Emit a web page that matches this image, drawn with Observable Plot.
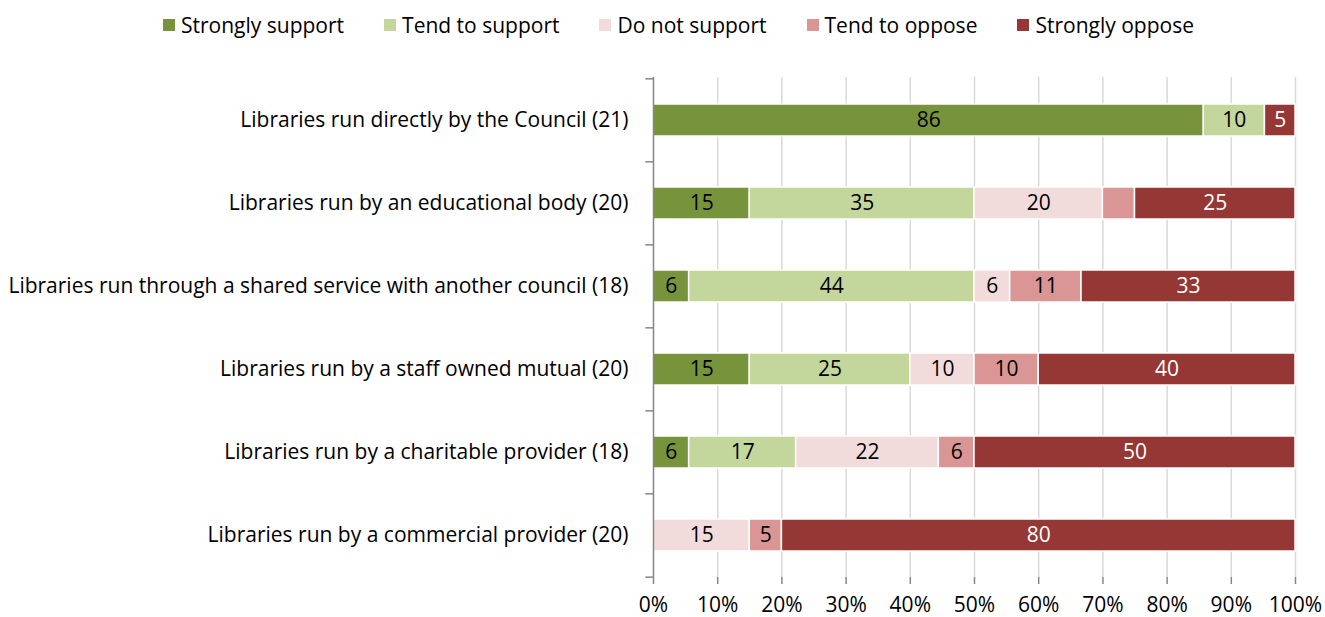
<!DOCTYPE html>
<html><head><meta charset="utf-8">
<script src="https://cdn.jsdelivr.net/npm/d3@7"></script>
<script src="https://cdn.jsdelivr.net/npm/@observablehq/plot@0.6"></script>
<style>
body{margin:0;background:#fff;font-family:"Open Sans",Lato,sans-serif;}
#legend{height:50px;display:flex;justify-content:center;align-items:center;gap:40px;font-size:21px;color:#000;padding-left:32px;box-sizing:border-box;}
#legend .it{display:flex;align-items:center;gap:6px;}
#legend .sw{width:12px;height:12px;display:inline-block;}
</style></head>
<body>
<div id="legend"></div>
<div id="chart"></div>
<script>
const libraries = [
  "Libraries run directly by the Council (21)",
  "Libraries run by an educational body (20)",
  "Libraries run through a shared service with another council (18)",
  "Libraries run by a staff owned mutual (20)",
  "Libraries run by a charitable provider (18)",
  "Libraries run by a commercial provider (20)"
];
const responses = ["Strongly support","Tend to support","Do not support","Tend to oppose","Strongly oppose"];
const colors = ["#77933C","#C3D69B","#F2DCDB","#D99694","#953735"];
// respondent counts per response (row order = libraries, column order = responses)
const counts = [
  [18, 2, 0, 0, 1],
  [3, 7, 4, 1, 5],
  [1, 8, 1, 2, 6],
  [3, 5, 2, 2, 8],
  [1, 3, 4, 1, 9],
  [0, 0, 3, 1, 16]
];
// segments shown without a value label in the original: [row, response]
const unlabelled = [[1, 3]];
const xTicks = [0,0.1,0.2,0.3,0.4,0.5,0.6,0.7,0.8,0.9,1];

const data = [];
libraries.forEach((lib, i) => {
  const n = d3.sum(counts[i]);
  responses.forEach((r, j) => {
    if (counts[i][j] > 0) {
      const hide = unlabelled.some(([a, b]) => a === i && b === j);
      data.push({library: lib, response: r, count: counts[i][j], label: hide ? "" : String(Math.round(counts[i][j] / n * 100))});
    }
  });
});

const leg = document.getElementById("legend");
responses.forEach((r, j) => {
  const d = document.createElement("div"); d.className = "it";
  d.innerHTML = `<span class="sw" style="background:${colors[j]}"></span><span>${r}</span>`;
  leg.appendChild(d);
});

const W = 1325, H = 567, mt = 27, mb = 40, ml = 653, mr = 30;
const step = (H - mt - mb) / libraries.length;
const font = "'Open Sans', Lato, sans-serif";

const chart = Plot.plot({
  width: W, height: H,
  marginTop: mt, marginBottom: mb, marginLeft: ml, marginRight: mr,
  style: {fontFamily: font, fontSize: "21px", color: "#000", background: "#fff"},
  x: {domain: [0, 1]},
  y: {domain: libraries, paddingInner: 0.62, paddingOuter: 0.31},
  color: {domain: responses, range: colors},
  marks: [
    Plot.ruleX(xTicks.slice(1), {stroke: "#d9d9d9", strokeWidth: 1.5}),
    Plot.barX(data, Plot.stackX({x: "count", y: "library", fill: "response", order: responses, offset: "normalize", stroke: "#fff", strokeWidth: 1.5})),
    Plot.text(data, Plot.stackX({x: "count", y: "library", z: "response", order: responses, offset: "normalize", text: "label",
      fill: d => d.response === "Strongly oppose" ? "#fff" : "#000", fontSize: 21})),
    Plot.ruleX([0], {stroke: "#868686", strokeWidth: 1.5}),
    Plot.ruleY([0], {stroke: "#868686", strokeWidth: 1.5}),
    Plot.ruleY(libraries, {y: d => d, x1: -0.012, x2: 0, dy: -step / 2, stroke: "#868686", strokeWidth: 1.5}),
    Plot.ruleY(libraries.slice(-1), {y: d => d, x1: -0.012, x2: 0, dy: step / 2, stroke: "#868686", strokeWidth: 1.5}),
    Plot.axisX(xTicks, {tickFormat: d => Math.round(d * 100) + "%", tickSize: 7, tickPadding: 13, stroke: "#868686", strokeWidth: 1.5, fontSize: 21, fill: "#000", label: null}),
    Plot.axisY({tickSize: 0, tickPadding: 25, fontSize: 21, fill: "#000", label: null})
  ]
});
document.getElementById("chart").appendChild(chart);
</script>
</body></html>
